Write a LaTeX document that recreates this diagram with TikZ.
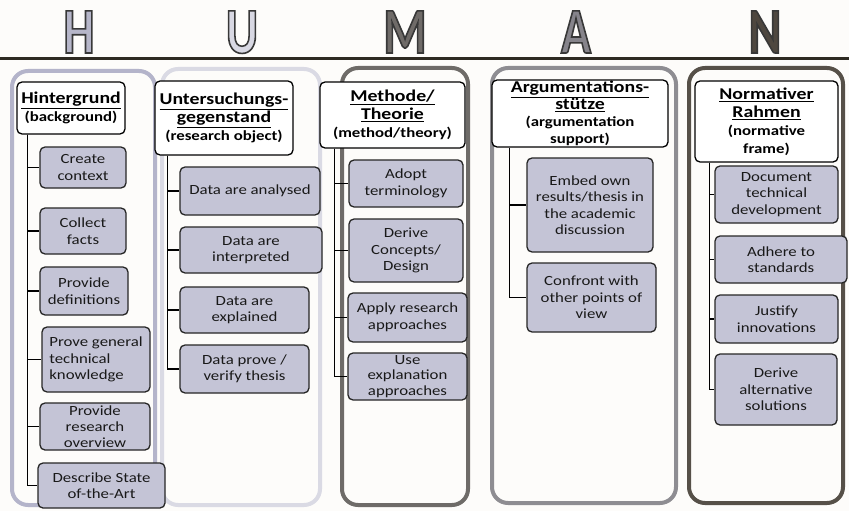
\documentclass[tikz,border=0pt]{standalone}
\usepackage{fontspec}
\setmainfont{Carlito}[FakeStretch=1.2]
\newfontfamily\capsfont{Carlito}[FakeStretch=0.76]
\usepackage{tikz}

\definecolor{paper}{HTML}{FDFCFA}
\definecolor{itemfill}{HTML}{C4C4D6}
\definecolor{rulecol}{HTML}{2E2A22}
% letter / frame colours, one per column
\definecolor{ltrH}{HTML}{B6B6C9}
\definecolor{ltrU}{HTML}{D8D8E3}
\definecolor{ltrM}{HTML}{6F6B68}
\definecolor{ltrA}{HTML}{86848B}
\definecolor{ltrN}{HTML}{4E473F}
\definecolor{frmH}{HTML}{B4B4CA}
\definecolor{frmU}{HTML}{DADAE4}
\definecolor{frmM}{HTML}{6E6B68}
\definecolor{frmA}{HTML}{8E8D92}
\definecolor{frmN}{HTML}{565048}

% filled letter with a dark stroked outline (text render mode 2)
\newcommand{\outlined}[1]{%
  \special{pdf:literal direct 2 Tr 1.6 w 0.22 0.22 0.22 RG}#1\special{pdf:literal direct 0 Tr}}
% underlined column title, a bit larger than the rest
\newcommand{\ttl}[1]{{\fontsize{16.5}{18}\selectfont\underline{#1}}}

\begin{document}
\begin{tikzpicture}[
    x=1pt, y=-1pt, % pixel-like units, y runs downwards
    bigltr/.style = {font=\capsfont\bfseries\fontsize{65}{65}\selectfont, anchor=base, inner sep=0pt},
    frame/.style  = {line width=4pt, rounded corners=16pt},
    head/.style   = {draw=black, line width=1.3pt, fill=white, rounded corners=5pt, align=center,
                     inner sep=1pt, font=\bfseries\fontsize{14}{18}\selectfont},
    item/.style   = {draw=black!85, line width=1.3pt, fill=itemfill, rounded corners=5pt, align=center,
                     inner sep=1pt, text=black!90, font=\fontsize{14}{16.5}\selectfont},
    wh/.style 2 args = {minimum width=#1pt, minimum height=#2pt},
    branch/.style = {line width=1.5pt, draw=black}
  ]

  \useasboundingbox (0,0) rectangle (849,511);
  \fill[paper] (0,0) rectangle (849,511);

  % ===== Big letters + rule =====
  \foreach \ch/\xx/\col in {H/79/ltrH, U/242/ltrU, M/405/ltrM, A/576/ltrA, N/765/ltrN}{
    \node[bigltr, text=\col] (\ch-top) at (\xx,53) {\outlined{\ch}};
  }
  \draw[line width=3pt, rulecol] (0,59) -- (849,59);

  % ===== Column frames =====
  \draw[frame, draw=frmH] (12,71) rectangle (155,505);
  \draw[frame, draw=frmU] (162,69) rectangle (320,505);
  \draw[frame, draw=frmM] (342,68) rectangle (468,505);
  \draw[frame, draw=frmA] (492,68) rectangle (676,503);
  \draw[frame, draw=frmN] (689,68) rectangle (843,503);

  % ===== H: Hintergrund =====
  \node[head, wh={108}{52}] (hH) at (71,108) {\ttl{Hintergrund}\\(background)};
  \node[item, wh={86}{41}]  (h1) at (83,167.5) {Create\\context};
  \node[item, wh={86}{46}]  (h2) at (83,231) {Collect\\facts};
  \node[item, wh={88}{48}]  (h3) at (84,291) {Provide\\definitions};
  \node[item, wh={108}{65}, align=left] (h4) at (96,359.5) {Prove general\\technical\\knowledge};
  \node[item, wh={110}{47}, font=\fontsize{14}{16}\selectfont] (h5) at (95,426.5) {Provide\\research\\overview};
  \node[item, wh={127}{45}] (h6) at (101.5,485.5) {Describe State\\of-the-Art};
  \foreach \b in {h1,h2,h3,h4,h5,h6}
    \draw[branch] ([xshift=11pt]hH.south west) |- (\b.west);

  % ===== U: Untersuchungsgegenstand =====
  \node[head, wh={138}{74}] (uH) at (224,118) {\ttl{Untersuchungs-}\\\ttl{gegenstand}\\(research object)};
  \node[item, wh={140}{48}] (u1) at (250,191) {Data are analysed};
  \node[item, wh={142}{46}] (u2) at (251,250) {Data are\\interpreted};
  \node[item, wh={129}{46}] (u3) at (244.5,310) {Data are\\explained};
  \node[item, wh={129}{48}] (u4) at (244.5,369) {Data prove /\\verify thesis};
  \foreach \b in {u1,u2,u3,u4}
    \draw[branch] ([xshift=13pt]uH.south west) |- (\b.west);

  % ===== M: Methode/Theorie =====
  \node[head, wh={145}{66}] (mH) at (392.5,115) {\ttl{Methode/}\\\ttl{Theorie}\\(method/theory)};
  \node[item, wh={114}{47}] (m1) at (406,183.5) {Adopt\\terminology};
  \node[item, wh={114}{63}] (m2) at (406,250.5) {Derive\\Concepts/\\Design};
  \node[item, wh={119}{49}] (m3) at (407.5,317.5) {Apply research\\approaches};
  \node[item, wh={119}{47}, font=\fontsize{14}{15.5}\selectfont] (m4) at (407.5,376.5) {Use\\explanation\\approaches};
  \foreach \b in {m1,m2,m3,m4}
    \draw[branch] ([xshift=15pt]mH.south west) |- (\b.west);

  % ===== A: Argumentationsstuetze =====
  \node[head, wh={176}{67}, font=\bfseries\fontsize{14}{17}\selectfont] (aH) at (580,113.5)
       {\ttl{Argumentations-}\\\ttl{stütze}\\(argumentation\\support)};
  \node[item, wh={126}{94}] (a1) at (590,205) {Embed own\\results/thesis in\\the academic\\discussion};
  \node[item, wh={129}{69}] (a2) at (591.5,297.5) {Confront with\\other points of\\view};
  \foreach \b in {a1,a2}
    \draw[branch] ([xshift=18pt]aH.south west) |- (\b.west);

  % ===== N: Normativer Rahmen =====
  \node[head, wh={143}{81}] (nH) at (766.5,121.5) {\ttl{Normativer}\\\ttl{Rahmen}\\(normative\\frame)};
  \node[item, wh={123}{57}] (n1) at (776.5,194.5) {Document\\technical\\development};
  \node[item, wh={132}{47}] (n2) at (781,259.5) {Adhere to\\standards};
  \node[item, wh={123}{48}] (n3) at (776.5,319) {Justify\\innovations};
  \node[item, wh={122}{71}] (n4) at (776,389.5) {Derive\\alternative\\solutions};
  \foreach \b in {n1,n2,n3,n4}
    \draw[branch] ([xshift=15pt]nH.south west) |- (\b.west);

\end{tikzpicture}
\end{document}
